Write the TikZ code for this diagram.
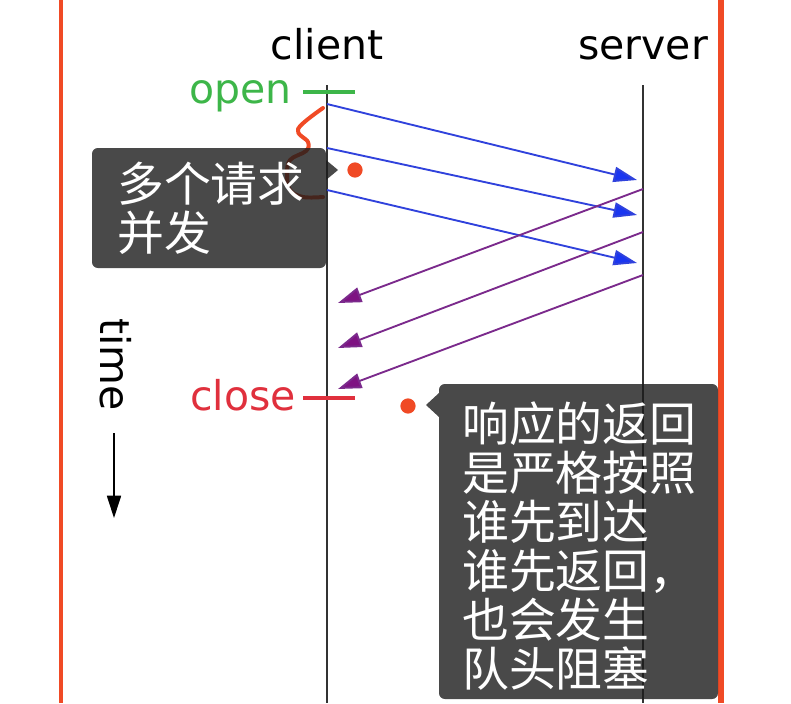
\documentclass[tikz,border=0pt]{standalone}
\usepackage{fontspec}
\setmainfont{DejaVu Sans}
\newfontfamily\cjkfont{Noto Sans CJK SC}
\usetikzlibrary{arrows.meta}
\definecolor{markred}{HTML}{F04A25}
\definecolor{reqblue}{HTML}{3042DC}
\definecolor{reqhead}{HTML}{1A36F0}
\definecolor{resppurple}{HTML}{7B2A8C}
\definecolor{resphead}{HTML}{7E1282}
\definecolor{opengreen}{HTML}{3DB649}
\definecolor{closered}{HTML}{E0303D}
\definecolor{boxgray}{HTML}{1C1C1C}
\tikzset{
  lbl/.style={inner sep=0pt, font=\fontsize{35}{40}\selectfont},
  cjklbl/.style={inner sep=0pt, align=left, text=white, font=\cjkfont\fontsize{40}{41.8}\selectfont},
  lifeline/.style={line width=1.5pt, draw=black!80},
  tick/.style={line width=2.6pt},
  req/.style={line width=1.6pt, draw=reqblue, -{Triangle[length=20pt,width=13pt,fill=reqhead]}},
  resp/.style={line width=1.6pt, draw=resppurple, -{Triangle[length=20pt,width=13pt,fill=resphead]}},
  callout/.style={fill=boxgray, fill opacity=0.8},
  dot/.style={circle, fill=markred, inner sep=0pt, minimum size=13pt}
}
\begin{document}
\begin{tikzpicture}[x=0.03cm,y=-0.03cm]
			\useasboundingbox (0,0) rectangle (791,703);
			% red frame
			\draw[markred, line width=3.5pt] (61,0) -- (61,703);
			\draw[markred, line width=4.5pt] (721,0) -- (721,703);
			% lifelines
			\node[lbl, anchor=base] (client) at (327,60) {client};
			\node[lbl, anchor=base] (server) at (643,60) {server};
			\coordinate (cTop) at (327,85);
			\coordinate (cBot) at (327,703);
			\coordinate (sTop) at (643,85);
			\coordinate (sBot) at (643,703);
			\draw[lifeline] (cTop) -- (cBot);
			\draw[lifeline] (sTop) -- (sBot);
			% open / close
			\node[lbl, anchor=base east, text=opengreen] (open) at (292,103) {open};
			\node[lbl, anchor=base east, text=closered] (close) at (296,410) {close};
			\coordinate (o1) at (303,92);
			\coordinate (o2) at (355,92);
			\coordinate (x1) at (303,398);
			\coordinate (x2) at (355,398);
			\draw[tick, opengreen] (o1) -- (o2);
			\draw[tick, closered] (x1) -- (x2);
			% requests
			\coordinate (c1) at (327,104);
			\coordinate (c2) at (327,148);
			\coordinate (c3) at (327,190);
			\coordinate (s1) at (637,180);
			\coordinate (s2) at (637,215);
			\coordinate (s3) at (637,263);
			\draw[req] (c1) -- (s1);
			\draw[req] (c2) -- (s2);
			\draw[req] (c3) -- (s3);
			% responses
			\coordinate (r1) at (643,189);
			\coordinate (r2) at (643,232);
			\coordinate (r3) at (643,275);
			\coordinate (d1) at (338,303);
			\coordinate (d2) at (338,348);
			\coordinate (d3) at (338,389);
			\draw[resp] (r1) -- (d1);
			\draw[resp] (r2) -- (d2);
			\draw[resp] (r3) -- (d3);
			% time
			\node[lbl, rotate=-90, anchor=base west] (time) at (100,318) {time};
			\coordinate (t0) at (114,433);
			\coordinate (t1) at (114,518);
			\draw[line width=1.3pt, -{Triangle[length=19pt,width=12pt]}] (t0) -- (t1);
			% brace
			\draw[markred, line width=3.4pt, line cap=round, line join=round] plot[smooth, tension=0.6] coordinates {(323,108) (298,129) (308,142) (306,151) (290,160) (287,175) (290,190) (303,197) (323,197)};
			% callouts
			\fill[callout] [rounded corners=5pt] (92,148) rectangle (326,268) [sharp corners] (326,160) -- (338,170) -- (326,180) -- cycle;
			\fill[callout] [rounded corners=5pt] (439,384) rectangle (718,699) [sharp corners] (439,393) -- (426,405) -- (439,417) -- cycle;
			\node[cjklbl, anchor=north west] (multi) at (117,162) {多个请求\\并发};
			\node[cjklbl, anchor=north west] (order) at (462,402) {响应的返回\\是严格按照\\谁先到达\\谁先返回，\\也会发生\\队头阻塞};
			\node[dot] (dot1) at (355,170) {};
			\node[dot] (dot2) at (408,406) {};
		\end{tikzpicture}
\end{document}
